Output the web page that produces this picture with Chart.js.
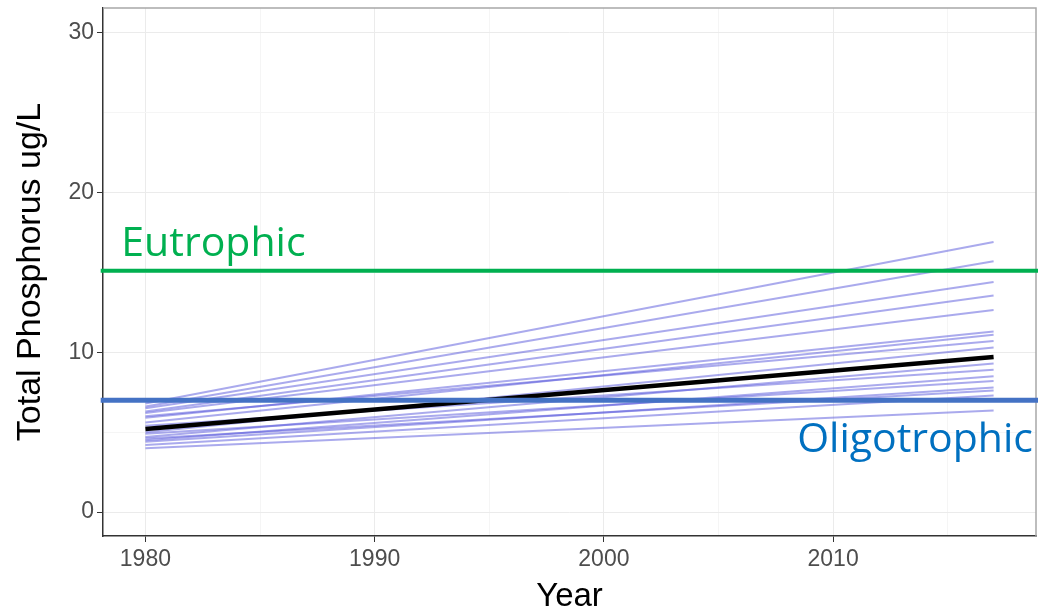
<!DOCTYPE html>
<html>
<head>
<meta charset="utf-8">
<title>Total Phosphorus trends</title>
<script src="https://cdn.jsdelivr.net/npm/chart.js@4"></script>
<style>
  html, body { margin: 0; padding: 0; background: #fff; }
  #wrap { width: 1038px; height: 612px; }
</style>
</head>
<body>
<div id="wrap"><canvas id="tp" width="1038" height="612"></canvas></div>
<script>
// fitted trend per lake: value in first and last year
const years = [1980, 2017];
const lakeStart = [6.8, 6.6, 6.5, 6.3, 6.2, 5.9, 5.6, 6.0, 5.0, 4.7, 5.4, 4.5, 4.9, 4.4, 4.6, 4.2, 4.0];
const lakeEnd   = [16.9, 15.7, 14.4, 13.55, 12.65, 11.3, 11.1, 10.7, 10.3, 9.3, 8.9, 8.5, 8.2, 7.8, 7.6, 7.3, 6.35];
// overall (mean) trend
const meanTrend = [5.2, 9.7];
// trophic thresholds
const eutrophicLevel = 15.1;
const oligotrophicLevel = 7.0;
const xTicks = [1980, 1985, 1990, 1995, 2000, 2005, 2010, 2015];
const yTicks = [0, 5, 10, 15, 20, 25, 30];

const X_MIN = 1978.15, X_MAX = 2018.85;
const Y_MIN = -1.5, Y_MAX = 31.55;

const lakeSets = lakeStart.map((s, i) => ({
  data: [{x: years[0], y: s}, {x: years[1], y: lakeEnd[i]}],
  borderColor: 'rgba(85, 85, 220, 0.5)',
  borderWidth: 2,
  pointRadius: 0,
  order: 3
}));

const meanSet = {
  data: years.map((yr, i) => ({x: yr, y: meanTrend[i]})),
  borderColor: '#000',
  borderWidth: 4.5,
  pointRadius: 0,
  order: 2
};

function levelLine(level, color, width) {
  return {
    data: [{x: X_MIN - 0.1, y: level}, {x: X_MAX + 0.1, y: level}],
    borderColor: color,
    borderWidth: width,
    pointRadius: 0,
    clip: false,
    order: 1
  };
}

const isMajor = v => v % 10 === 0;

// grey frame on top/right, level labels
const decor = {
  id: 'decor',
  beforeDatasetsDraw(chart) {
    const {ctx, chartArea: a} = chart;
    ctx.save();
    ctx.strokeStyle = '#a8a8a8';
    ctx.lineWidth = 1.5;
    ctx.beginPath();
    ctx.moveTo(a.left, a.top);
    ctx.lineTo(a.right, a.top);
    ctx.lineTo(a.right, a.bottom);
    ctx.stroke();
    ctx.restore();
  },
  afterDatasetsDraw(chart) {
    const {ctx} = chart;
    const xs = chart.scales.x, ys = chart.scales.y;
    ctx.save();
    ctx.font = '41px "Open Sans"';
    ctx.textBaseline = 'alphabetic';
    ctx.fillStyle = '#00b050';
    ctx.textAlign = 'left';
    ctx.fillText('Eutrophic', xs.getPixelForValue(1978.95), ys.getPixelForValue(eutrophicLevel) - 15);
    ctx.fillStyle = '#0070c0';
    ctx.textAlign = 'right';
    ctx.fillText('Oligotrophic', chart.chartArea.right - 3, ys.getPixelForValue(oligotrophicLevel) + 52);
    ctx.restore();
  }
};

new Chart(document.getElementById('tp'), {
  type: 'line',
  data: {
    datasets: [
      ...lakeSets,
      meanSet,
      levelLine(eutrophicLevel, '#00b050', 4),
      levelLine(oligotrophicLevel, '#4472c4', 5)
    ]
  },
  options: {
    responsive: false,
    animation: false,
    devicePixelRatio: 1,
    layout: { padding: { top: 8, right: 2, left: 0, bottom: 0 } },
    plugins: { legend: { display: false }, tooltip: { enabled: false } },
    scales: {
      x: {
        type: 'linear',
        min: X_MIN,
        max: X_MAX,
        afterBuildTicks: s => { s.ticks = xTicks.map(v => ({value: v})); },
        afterFit: s => { s.height = 76; s.paddingLeft = 0; s.paddingRight = 0; },
        ticks: {
          callback: v => isMajor(v) ? String(v) : '',
          color: '#4d4d4d',
          font: { family: 'Liberation Sans', size: 23 },
          padding: 4,
          maxRotation: 0,
          autoSkip: false
        },
        grid: {
          color: c => c.tick && isMajor(c.tick.value) ? '#ebebeb' : '#f5f5f5',
          tickColor: c => c.tick && isMajor(c.tick.value) ? '#333' : 'rgba(0,0,0,0)',
          tickLength: 6,
          lineWidth: 1
        },
        border: { display: true, color: '#333', width: 1.5 },
        title: {
          display: true,
          text: 'Year',
          color: '#000',
          font: { family: 'Liberation Sans', size: 33 },
          padding: { top: 0, bottom: -5 }
        }
      },
      y: {
        type: 'linear',
        min: Y_MIN,
        max: Y_MAX,
        afterBuildTicks: s => { s.ticks = yTicks.map(v => ({value: v})); },
        afterFit: s => { s.width = 103; s.paddingTop = 0; s.paddingBottom = 0; },
        ticks: {
          callback: v => isMajor(v) ? String(v) : '',
          color: '#4d4d4d',
          font: { family: 'Liberation Sans', size: 23 },
          padding: 3
        },
        grid: {
          color: c => c.tick && isMajor(c.tick.value) ? '#ebebeb' : '#f5f5f5',
          tickColor: c => c.tick && isMajor(c.tick.value) ? '#333' : 'rgba(0,0,0,0)',
          tickLength: 6,
          lineWidth: 1
        },
        border: { display: true, color: '#333', width: 1.5 },
        title: {
          display: true,
          text: 'Total Phosphorus ug/L',
          color: '#000',
          font: { family: 'Liberation Sans', size: 34 },
          padding: { top: 10, bottom: 0 }
        }
      }
    }
  },
  plugins: [decor]
});
</script>
</body>
</html>
